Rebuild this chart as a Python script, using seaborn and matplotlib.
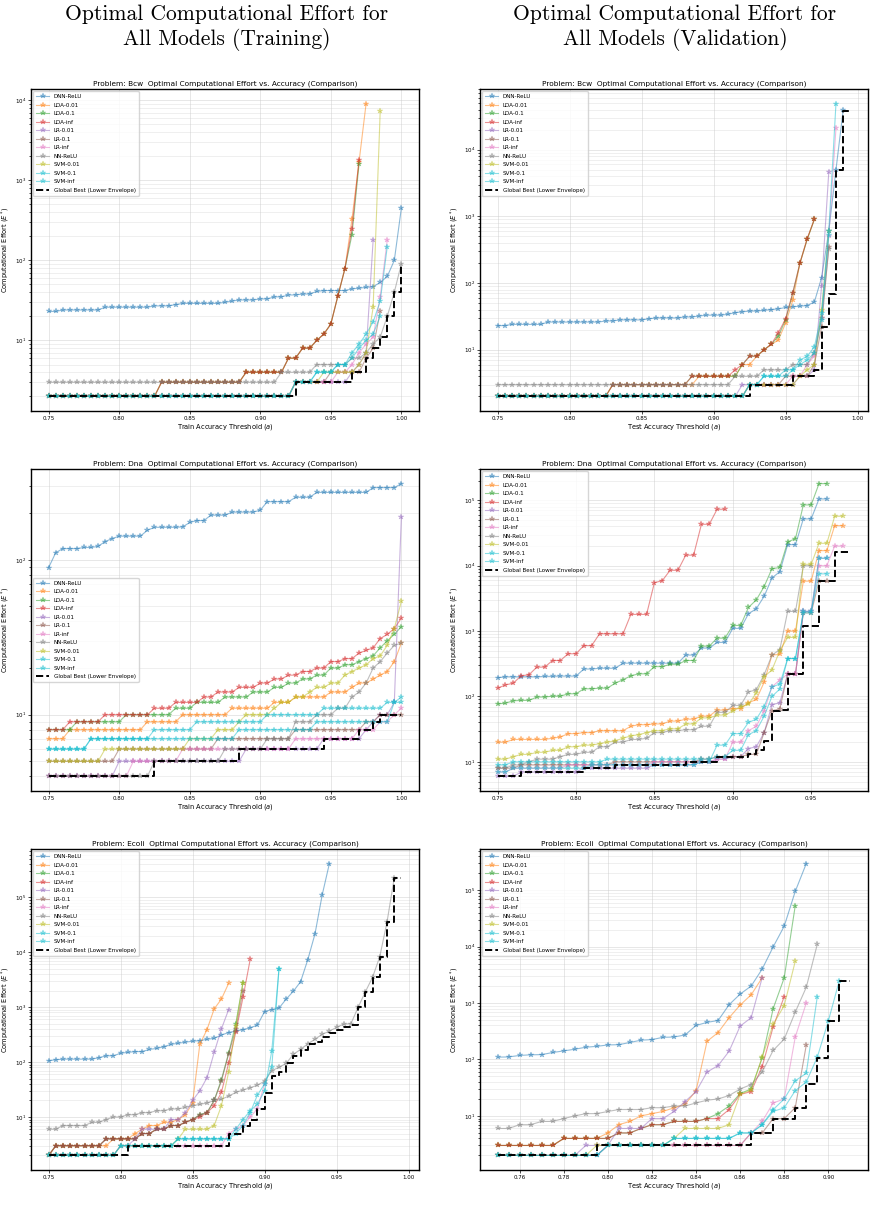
import numpy as np
import seaborn as sns
import matplotlib.pyplot as plt

# modele si culori (tab10, ultimele doua identice)
models = ["DNN-ReLU", "LDA-0.01", "LDA-0.1", "LDA-inf", "LR-0.01", "LR-0.1",
          "LR-inf", "NN-ReLU", "SVM-0.01", "SVM-0.1", "SVM-inf"]
colors = ["#1f77b4", "#ff7f0e", "#2ca02c", "#d62728", "#9467bd", "#8c564b",
          "#e377c2", "#7f7f7f", "#bcbd22", "#17becf", "#17becf"]

# pragurile de acuratete (pas 0.005)
thresholds = np.round(0.75 + 0.005 * np.arange(51), 3)

# ---- Bcw, train ----
bcw_train = {
    "DNN-ReLU": [23, 23, 24, 24, 24, 24, 24, 24, 26, 26, 26, 26, 26, 26, 26, 27, 27, 27, 28, 29,
                 29, 29, 29, 29, 29, 30, 31, 32, 32, 32, 33, 33, 35, 35, 37, 37, 38, 38, 41, 42,
                 42, 42, 42, 44, 45, 46, 47, 53, 63, 100, 450],
    "LDA-0.01": [2] * 16 + [3] * 12 + [4] * 6 + [6, 6, 8, 8, 10, 12, 16, 36, 79, 330, 1700, 9100],
    "LDA-0.1": [2] * 16 + [3] * 12 + [4] * 6 + [6, 6, 8, 8, 10, 12, 16, 36, 79, 210, 1600],
    "LDA-inf": [2] * 16 + [3] * 12 + [4] * 6 + [6, 6, 8, 8, 10, 12, 16, 36, 79, 250, 1820],
    "LR-0.01": [2] * 35 + [3] * 8 + [4, 5, 7, 180],
    "LR-0.1": [2] * 35 + [3] * 5 + [4] * 5 + [6, 8, 23],
    "LR-inf": [2] * 35 + [3] * 6 + [4, 4, 5, 7, 9, 11, 35, 180],
    "NN-ReLU": [3] * 33 + [4] * 5 + [5] * 5 + [6, 6, 7, 9, 11, 20, 40, 91],
    "SVM-0.01": [2] * 35 + [3] * 4 + [4] * 5 + [5, 7, 26, 7300],
    "SVM-0.1": [2] * 35 + [3] * 3 + [4] * 3 + [5, 5, 7, 9, 12, 17, 31, 148],
    "SVM-inf": [2] * 35 + [3] * 3 + [4] * 3 + [5, 5, 6, 8, 10, 12, 20],
}
bcw_train_best = [2] * 35 + [3] * 8 + [4, 4, 6, 8, 11, 20, 40, 91]

# ---- Bcw, validation ----
bcw_val = {
    "DNN-ReLU": [23, 23, 24, 24, 24, 24, 24, 26, 26, 26, 26, 26, 26, 26, 26, 27, 27, 28, 28, 28,
                 28, 29, 30, 30, 30, 30, 31, 31, 32, 33, 33, 33, 34, 36, 37, 38, 38, 39, 40, 41,
                 43, 44, 45, 46, 52, 120, 600, 5000, 39000],
    "LDA-0.01": [2] * 16 + [3] * 12 + [4] * 6 + [6, 6, 8, 10, 12, 14, 25, 55, 200, 460, 900],
    "LDA-0.1": [2] * 16 + [3] * 11 + [4] * 7 + [6, 8, 8, 10, 12, 16, 28, 70, 200, 450, 900],
    "LDA-inf": [2] * 16 + [3] * 11 + [4] * 6 + [5, 6, 8, 8, 10, 12, 18, 29, 72, 200, 460, 910],
    "LR-0.01": [2] * 34 + [3] * 8 + [4, 4, 5, 90, 4600],
    "LR-0.1": [2] * 35 + [3] * 5 + [4] * 4 + [6, 22, 350],
    "LR-inf": [2] * 35 + [3] * 6 + [4, 4, 6, 8, 30, 500, 21000],
    "NN-ReLU": [3] * 33 + [4] * 4 + [5] * 4 + [6, 6, 6, 9, 30, 320],
    "SVM-0.01": [2] * 35 + [3] * 7 + [4, 5, 6, 40, 610],
    "SVM-0.1": [2] * 35 + [3, 3, 4, 4, 4, 4, 5, 7, 8, 11, 35, 600, 49000],
    "SVM-inf": [2] * 35 + [3, 3, 4, 4, 4, 5, 5, 6, 7, 9, 28, 520],
}
bcw_val_best = [2] * 35 + [3] * 6 + [4, 4, 4, 5, 22, 69, 5000, 38000, 38000]

# ---- Dna, train ----
dna_train = {
    "DNN-ReLU": [89, 111, 118, 118, 118, 120, 120, 122, 131, 137, 142, 142, 142, 142, 155, 162, 162, 162, 162, 163,
                 174, 179, 179, 194, 194, 194, 203, 203, 203, 203, 209, 237, 237, 237, 237, 253, 253, 253, 272, 272,
                 272, 272, 272, 272, 272, 272, 292, 292, 292, 292, 310],
    "LDA-0.01": [7] * 3 + [8] * 11 + [9] * 5 + [10] * 7 + [11] * 6 + [12] * 3 + [13] * 5 + [14] * 3
                + [15, 16, 16, 17, 18, 19, 22, 29],
    "LDA-0.1": [8] * 4 + [9] * 7 + [10] * 7 + [11] * 3 + [12] * 4 + [13] * 4 + [14] * 3
               + [15, 15, 16, 16, 17, 17, 18, 18, 20, 20, 21, 21, 22, 23, 24, 27, 30, 33, 37],
    "LDA-inf": [8] * 3 + [9] * 5 + [10] * 7 + [11] * 3 + [12] * 4
               + [13, 13, 14, 14, 14, 15, 15, 15, 16, 16, 17, 17, 18, 18]
               + [19, 19, 20, 20, 22, 22, 23, 23, 25, 26, 27, 31, 33, 36, 42],
    "LR-0.01": [4] * 10 + [5] * 18 + [6] * 11 + [7] * 6 + [8, 9, 10, 10, 12, 189],
    "LR-0.1": [5] * 10 + [6] * 14 + [7] * 11 + [8] * 10 + [9, 9, 10, 10, 10, 10],
    "LR-inf": [4] * 12 + [5] * 7 + [6] * 16 + [7] * 9 + [8, 8, 8, 9, 9, 10, 11],
    "NN-ReLU": [4] * 15 + [5] * 10 + [6] * 6 + [7] * 4 + [9] * 3 + [10] * 3
               + [11, 11, 13, 14, 16, 20, 22, 25, 28, 29],
    "SVM-0.01": [5] * 8 + [6] * 12 + [7] * 4 + [8] * 3 + [9] + [10] * 4
                + [11, 12, 12, 13, 13, 14, 15, 15, 16, 16, 18, 19, 20, 21, 23, 24, 28, 36, 54],
    "SVM-0.1": [6] * 6 + [7] * 9 + [8] * 6 + [9] * 10 + [10] * 8 + [11] * 9 + [12] * 3,
    "SVM-inf": [6] * 6 + [7] * 21 + [8] * 11 + [9] * 11 + [12, 13],
}
dna_train_best = [4] * 15 + [5] * 12 + [6] * 12 + [7] * 5 + [8, 8, 9, 10, 10, 10, 10]

# ---- Dna, validation ----
dna_val = {
    "DNN-ReLU": [193, 200, 200, 200, 200, 200, 203, 203, 205, 205, 205, 263, 263, 270, 270, 270, 323, 323, 323, 323,
                 323, 323, 323, 323, 430, 430, 550, 550, 670, 670, 1100, 1100, 1840, 2200, 3400, 6500, 8100,
                 21000, 21000, 52000, 52000, 105000, 105000],
    "LDA-0.01": [20, 20, 22, 22, 22, 22, 22, 23, 24, 27, 27, 28, 28, 30, 30, 30, 30, 35, 37, 37,
                 38, 38, 42, 42, 45, 45, 50, 50, 62, 62, 65, 65, 80, 90, 165, 430, 440, 1000, 1000, 5800,
                 5800, 17000, 17000, 41000, 41000],
    "LDA-0.1": [77, 79, 86, 87, 87, 98, 98, 101, 101, 110, 110, 131, 131, 134, 134, 160, 180, 207, 222, 222,
                286, 286, 310, 310, 355, 355, 590, 590, 780, 780, 1220, 1220, 2300, 3000, 4800, 9000, 9400,
                23000, 26000, 85000, 85000, 180000, 180000],
    "LDA-inf": [134, 150, 160, 207, 215, 281, 281, 355, 355, 450, 450, 600, 600, 910, 910, 910, 910, 1800, 1800,
                1800, 5500, 5900, 8500, 8500, 14500, 14500, 43000, 43000, 73000, 73000],
    "LR-0.01": [6, 6, 6, 7, 7, 7, 7, 7, 7, 7, 7, 8, 8, 8, 8, 8, 8, 8, 8, 8,
                9, 9, 9, 9, 9, 9, 10, 10, 11, 11, 12, 12, 16, 17, 28, 75, 80, 220, 220, 2000,
                2000, 13000, 13000],
    "LR-0.1": [8, 8, 8, 9, 9, 9, 9, 9, 9, 9, 9, 9, 9, 9, 9, 10, 10, 10, 10, 10,
               10, 10, 10, 10, 10, 10, 11, 11, 12, 12, 12, 12, 13, 13, 28, 60, 65, 220, 220, 1900,
               1900, 5800, 5800],
    "LR-inf": [7, 7, 8, 8, 8, 8, 8, 8, 8, 9, 9, 9, 9, 9, 9, 9, 9, 9, 9, 9,
               10, 10, 10, 10, 10, 10, 10, 10, 11, 11, 20, 20, 30, 35, 60, 140, 180, 220, 220, 2000,
               2000, 10000, 10000, 20000, 20000],
    "NN-ReLU": [8, 8, 9, 9, 10, 11, 11, 11, 12, 13, 13, 14, 14, 17, 17, 20, 20, 22, 22, 23,
                28, 28, 30, 30, 31, 31, 35, 35, 57, 57, 73, 73, 117, 127, 215, 430, 520, 2000, 2000, 10000,
                10000],
    "SVM-0.01": [11, 11, 12, 13, 13, 14, 14, 15, 15, 17, 17, 18, 18, 19, 20, 21, 23, 25, 26, 28,
                 30, 30, 32, 32, 38, 38, 47, 47, 52, 52, 60, 70, 76, 113, 200, 255, 500, 800, 800, 10500,
                 10500, 22000, 22000, 57000, 57000],
    "SVM-0.1": [7, 7, 8, 8, 8, 8, 8, 8, 8, 8, 8, 8, 9, 9, 9, 9, 9, 9, 9, 9,
                9, 9, 9, 9, 9, 9, 10, 10, 18, 18, 27, 27, 40, 45, 70, 140, 155, 380, 380, 2000,
                2000, 7500, 7500],
    "SVM-inf": [9, 9, 10, 10, 10, 10, 10, 10, 10, 10, 10, 10, 10, 10, 11, 11, 11, 11, 11, 11,
                11, 11, 11, 11, 11, 11, 11, 11, 12, 12, 15, 15, 26, 30, 50, 100, 130, 380, 380, 1900,
                1900, 13000, 13000],
}
dna_val_best = [6, 6, 6, 7, 7, 7, 7, 7, 7, 7, 7, 8, 8, 8, 8, 9, 9, 9, 9, 9,
                9, 9, 9, 9, 10, 10, 10, 10, 12, 12, 12, 12, 13, 15, 21, 60, 63, 220, 220, 1200,
                1200, 5800, 5800, 16000, 16000, 16000]

# ---- Ecoli, train ----
ecoli_train = {
    "DNN-ReLU": [106, 110, 113, 113, 113, 113, 113, 120, 130, 130, 145, 150, 155, 155, 170, 177, 190, 210, 220, 230,
                 240, 245, 260, 270, 310, 345, 365, 390, 420, 470, 830, 900, 960, 1400, 1950, 2900, 7300,
                 21500, 110000, 410000],
    "LDA-0.01": [2, 3, 3, 3, 3, 3, 3, 3, 3, 4, 4, 4, 5, 6, 7, 7, 8, 8, 9, 11,
                 18, 210, 390, 930, 1400, 2700],
    "LDA-0.1": [2, 3, 3, 3, 3, 3, 3, 3, 4, 4, 4, 4, 4, 5, 5, 6, 6, 7, 7, 8,
                9, 11, 12, 20, 48, 145, 500, 2800],
    "LDA-inf": [2, 3, 3, 3, 3, 3, 3, 3, 4, 4, 4, 4, 4, 5, 5, 6, 6, 7, 7, 8,
                9, 10, 12, 16, 28, 95, 350, 1500, 7400],
    "LR-0.01": [2, 2, 2, 2, 2, 2, 2, 2, 2, 2, 3, 3, 4, 6, 6, 6, 6, 9, 9, 12,
                20, 30, 52, 150, 400, 900],
    "LR-0.1": [2, 3, 3, 3, 3, 3, 3, 3, 4, 4, 4, 4, 4, 5, 5, 6, 6, 7, 7, 8,
               9, 11, 12, 20, 45, 140, 400, 2000],
    "LR-inf": [2] * 10 + [3] * 15 + [5, 6, 7, 10, 14, 40],
    "NN-ReLU": [6, 6, 7, 7, 7, 7, 8, 8, 9, 10, 10, 11, 11, 12, 12, 13, 13, 14, 14, 15,
                16, 17, 18, 20, 21, 24, 28, 31, 34, 38, 45, 70, 80, 95, 138, 170, 215, 260, 320, 365,
                430, 490, 500, 1000, 1900, 3500, 8300, 35000, 220000],
    "SVM-0.01": [2] * 10 + [3] * 8 + [4, 6, 6, 6, 6, 7, 16, 65, 450, 2800],
    "SVM-0.1": [2] * 10 + [3] * 8 + [4] * 8 + [5, 7, 12, 25, 40, 80, 5000],
    "SVM-inf": [2] * 10 + [3] * 8 + [4] * 8 + [6, 9, 13, 17, 30, 160, 5000],
}
ecoli_train_best = [2] * 11 + [3] * 14 + [5, 5, 7, 9, 14, 27, 55, 65, 95, 130, 165, 210, 230, 290, 340,
                                          380, 440, 480, 1000, 1900, 3500, 8300, 35000, 220000, 220000]

# ---- Ecoli, validation ----
ecoli_val = {
    "DNN-ReLU": [110, 111, 118, 121, 122, 133, 142, 152, 165, 171, 181, 183, 200, 220, 225, 247, 250, 272, 400, 455,
                 490, 935, 1440, 2000, 4000, 9900, 23000, 95000, 295000],
    "LDA-0.01": [3, 3, 3, 3, 3, 3, 4, 4, 4, 4, 5, 7, 8, 10, 11, 12, 14, 16, 28, 210,
                 300, 550, 920, 1400, 2800],
    "LDA-0.1": [3, 3, 3, 3, 3, 3, 4, 4, 4, 4, 4, 5, 5, 6, 7, 7, 8, 8, 8, 9,
                11, 15, 25, 30, 107, 800, 2800, 53000],
    "LDA-inf": [3, 3, 3, 3, 3, 3, 4, 4, 4, 4, 4, 5, 5, 6, 7, 7, 8, 8, 8, 9,
                9, 13, 24, 27, 75, 380, 1300],
    "LR-0.01": [2, 2, 2, 2, 2, 2, 2, 2, 3, 3, 3, 6, 6, 6, 9, 9, 12, 18, 27, 60,
                78, 140, 390, 550, 2800],
    "LR-0.1": [2] * 10 + [3] * 13 + [5, 5, 9, 9, 14, 180],
    "LR-inf": [2] * 10 + [3] * 13 + [5, 8, 17, 20, 250, 1000],
    "NN-ReLU": [6, 6, 7, 7, 8, 8, 9, 10, 11, 11, 12, 13, 13, 13, 14, 14, 15, 15, 17, 19,
                20, 23, 30, 36, 60, 145, 230, 690, 1900, 11000],
    "SVM-0.01": [2] * 9 + [3] * 7 + [4, 6, 6, 6, 6, 7, 24, 29, 110, 420, 900, 5500],
    "SVM-0.1": [2] * 10 + [3] * 6 + [4] * 6 + [5, 5, 7, 13, 20, 42, 57, 1300],
    "SVM-inf": [2] * 10 + [3] * 6 + [4] * 6 + [5, 5, 7, 12, 14, 28, 40, 110, 480, 2500],
}
ecoli_val_best = [2] * 9 + [3] * 14 + [5, 5, 9, 9, 14, 37, 105, 480, 2500, 2500]

panels = [
    (bcw_train, bcw_train_best, "Bcw", "Train", "upper left"),
    (bcw_val, bcw_val_best, "Bcw", "Test", "upper left"),
    (dna_train, dna_train_best, "Dna", "Train", "center left"),
    (dna_val, dna_val_best, "Dna", "Test", "upper left"),
    (ecoli_train, ecoli_train_best, "Ecoli", "Train", "upper left"),
    (ecoli_val, ecoli_val_best, "Ecoli", "Test", "upper left"),
]

W, H = 876, 1223
fig = plt.figure(figsize=(W / 100, H / 100), dpi=100)

col_left = [31, 480]
row_top = [89, 469, 849]
row_bottom = [411, 791, 1170]

for k, (curves, best, problem, split, loc) in enumerate(panels):
    r, c = divmod(k, 2)
    ax = fig.add_axes([col_left[c] / W, 1 - row_bottom[r] / H, 388 / W, (row_bottom[r] - row_top[r]) / H])

    for name, color in zip(models, colors):
        vals = curves[name]
        sns.lineplot(x=thresholds[:len(vals)], y=vals, ax=ax, color=color, marker="*",
                     markersize=4.0, markeredgecolor=color, markeredgewidth=0.3,
                     linewidth=0.8, alpha=0.5, label=name)
    sns.lineplot(x=thresholds[:len(best)], y=best, ax=ax, color="black", linestyle="--",
                 linewidth=1.4, drawstyle="steps-post", label="Global Best (Lower Envelope)")

    ax.set_yscale("log")
    ax.grid(True, which="major", color="#c8c8c8", alpha=0.5, linewidth=0.6)
    ax.grid(True, which="minor", axis="y", color="#c8c8c8", alpha=0.4, linewidth=0.5)
    ax.tick_params(which="both", labelsize=4, width=0.5, pad=1.5)
    ax.tick_params(which="major", length=2)
    ax.tick_params(which="minor", length=1.2)
    for sp in ax.spines.values():
        sp.set_linewidth(1.0)

    ax.set_title(f"Problem: {problem}  Optimal Computational Effort vs. Accuracy (Comparison)",
                 fontsize=5.3, pad=2.5)
    ax.set_xlabel(f"{split} Accuracy Threshold ($a$)", fontsize=4.8, labelpad=1)
    ax.set_ylabel("Computational Effort ($E^*$)", fontsize=4.8, labelpad=2)
    ax.legend(loc=loc, fontsize=4.1, labelspacing=0.62, handlelength=2.3, borderpad=0.5,
              borderaxespad=0.4)

fig.text(227 / W, 1 - 4 / H, "Optimal Computational Effort for\nAll Models (Training)",
         ha="center", va="top", fontsize=15.5, family="cmr10", linespacing=1.28)
fig.text(675 / W, 1 - 4 / H, "Optimal Computational Effort for\nAll Models (Validation)",
         ha="center", va="top", fontsize=15.5, family="cmr10", linespacing=1.28)

fig.savefig("out.png", dpi=100)
